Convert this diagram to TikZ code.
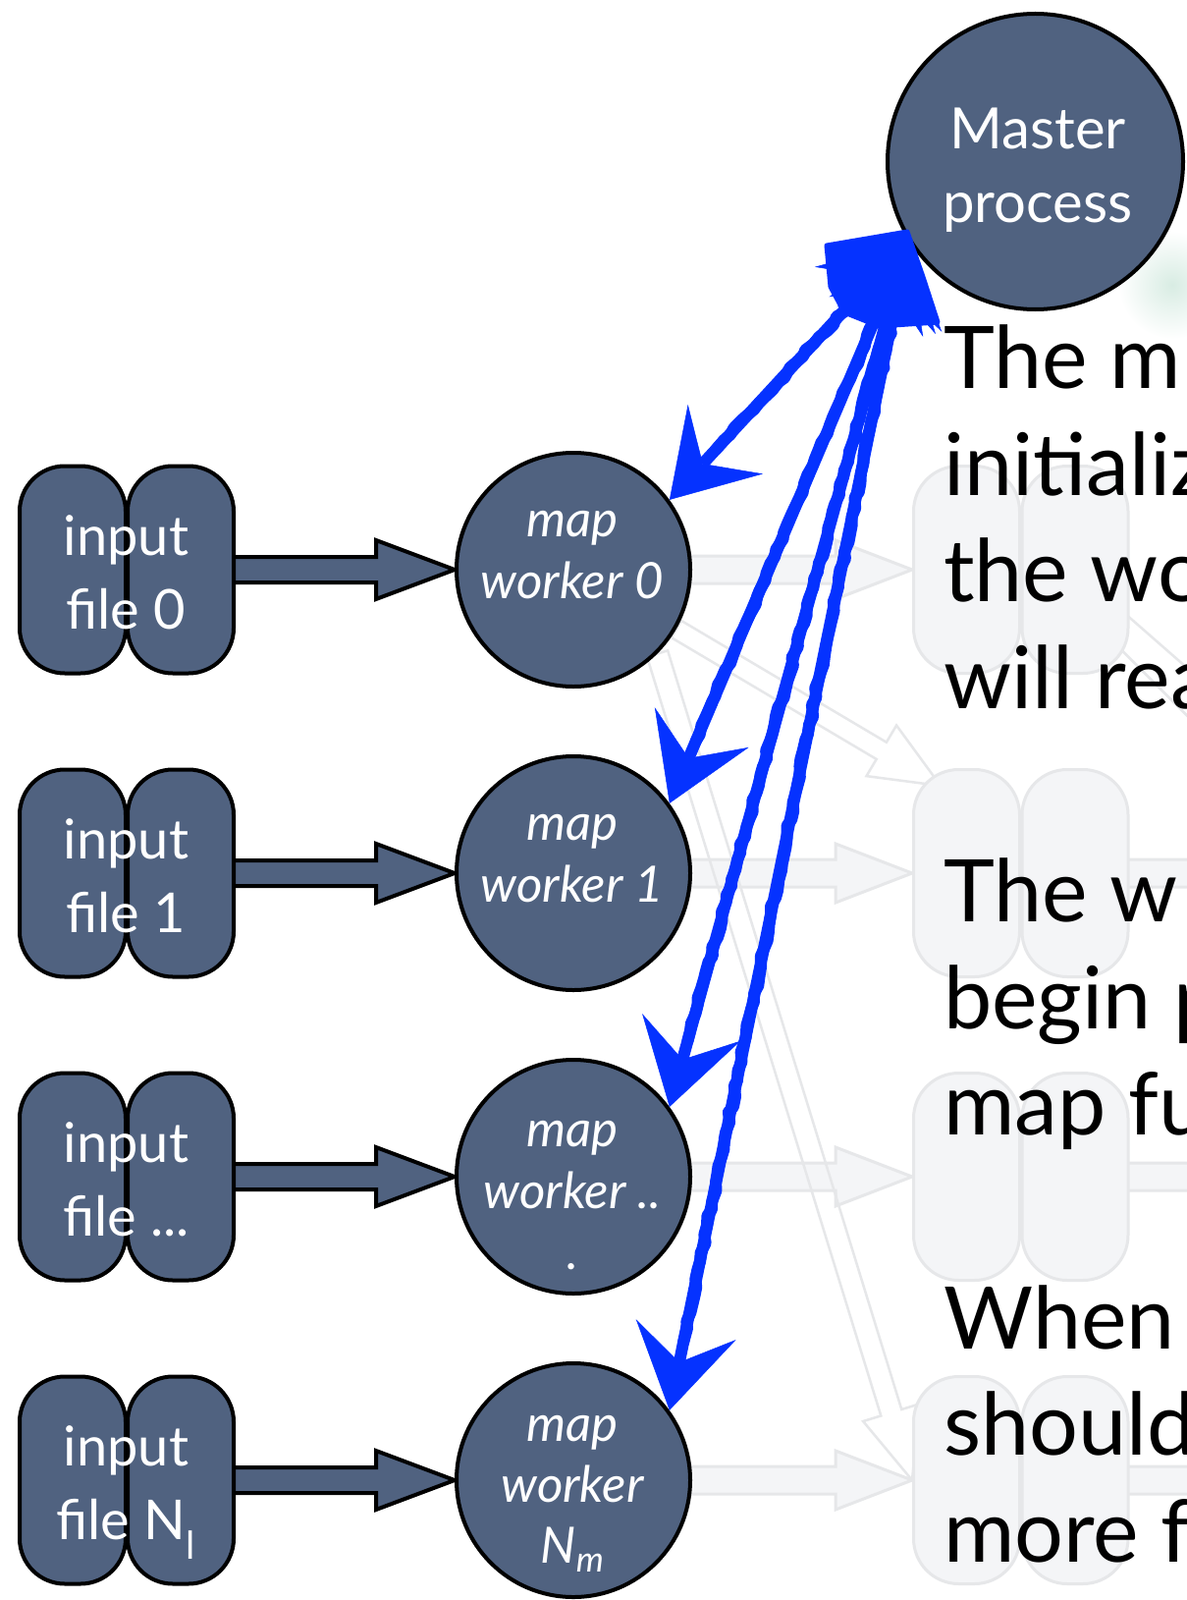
\documentclass[tikz,border=0pt]{standalone}
\usepackage{fontspec}
\setmainfont{Lato}
\usetikzlibrary{calc,arrows.meta,decorations.pathmorphing}
\definecolor{slate}{RGB}{80,98,128}
\definecolor{sketchblue}{RGB}{5,50,255}
\definecolor{ghostfill}{RGB}{244,245,247}
\definecolor{ghostline}{RGB}{230,231,233}
\definecolor{mint}{RGB}{216,236,227}
\pgfdeclarelayer{bg}
\pgfdeclarelayer{ghost}
\pgfdeclarelayer{arr}
\pgfdeclarelayer{top}
\pgfsetlayers{bg,ghost,arr,main,top}
% block arrow: style, start, tip, head length, head half width, shaft half width
\newcommand{\BlockArrow}[6]{%
  \path[#1] ($(#2)!#6!90:(#3)$) -- ($(#3)!#4!(#2)!#6!-90:(#2)$) -- ($(#3)!#4!(#2)!#5!-90:(#2)$) -- (#3)
    -- ($(#3)!#4!(#2)!#5!90:(#2)$) -- ($(#3)!#4!(#2)!#6!90:(#2)$) -- ($(#2)!#6!-90:(#3)$) -- cycle;}
\tikzset{
  pill/.style={draw=black, line width=4pt, fill=slate, rounded corners=46pt, minimum width=108pt, minimum height=211pt, inner sep=0pt},
  ghostpill/.style={draw=ghostline, line width=3pt, fill=ghostfill, rounded corners=46pt, minimum width=108pt, minimum height=211pt, inner sep=0pt},
  worker/.style={circle, draw=black, line width=4pt, fill=slate, minimum size=238pt, inner sep=0pt},
  masterc/.style={circle, draw=black, line width=4pt, fill=slate, minimum size=301pt, inner sep=0pt},
  intext/.style={text=white, font=\fontsize{56}{60}\selectfont, anchor=base, inner sep=0pt},
  wtext/.style={text=white, font=\fontsize{51}{55}\selectfont\itshape, anchor=base, inner sep=0pt},
  mtext/.style={text=white, font=\fontsize{58}{62}\selectfont, anchor=base, inner sep=0pt},
  bigtext/.style={text=black, font=\fontsize{88}{92}\selectfont, anchor=base west, inner sep=0pt},
  blockarrow/.style={draw=black, line width=4pt, fill=slate, line join=miter},
  ghostarrow/.style={draw=ghostline, line width=3pt, fill=ghostfill},
  ghostoutline/.style={draw=ghostline, line width=2.5pt},
  bluearrow/.style={draw=sketchblue, line width=12pt,
    arrows={Stealth[length=84pt,width=104pt,inset=34pt,line width=0.5pt]-Stealth[length=84pt,width=104pt,inset=34pt,line width=0.5pt]}},
  bluesketch/.style={draw=sketchblue, line width=12pt, line cap=round, line join=round,
    decorate, decoration={random steps, segment length=9pt, amplitude=2pt}},
  blueblob/.style={fill=sketchblue, draw=sketchblue, line width=5pt, line join=round}
}
\begin{document}
\begin{tikzpicture}[x=1pt,y=-1pt]
\useasboundingbox (0,0) rectangle (1208,1629);
\begin{pgfonlayer}{bg}
  \fill[white] (0,0) rectangle (1208,1629);
  \shade[inner color=mint, outer color=white] (1194,290) circle (55);
\end{pgfonlayer}
\clip (0,0) rectangle (1208,1629);

% faint background pills
\begin{pgfonlayer}{arr}
  \node[ghostpill] (ga0) at (984.5,580) {};
  \node[ghostpill] (gb0) at (1095,580) {};
  \node[ghostpill] (ga1) at (984.5,889) {};
  \node[ghostpill] (gb1) at (1095,889) {};
  \node[ghostpill] (ga2) at (984.5,1198) {};
  \node[ghostpill] (gb2) at (1095,1198) {};
  \node[ghostpill] (ga3) at (984.5,1507) {};
  \node[ghostpill] (gb3) at (1095,1507) {};
\end{pgfonlayer}

% master
\node[masterc] (master) at (1054.5,164.5) {};
\node[mtext] (mt1) at (1057,152) {Master};
\node[mtext] (mt2) at (1057,227) {process};

% input files
\node[pill] (ina0) at (74,580) {};
\node[pill] (inb0) at (184,580) {};
\node[pill] (ina1) at (74,889) {};
\node[pill] (inb1) at (184,889) {};
\node[pill] (ina2) at (74,1198) {};
\node[pill] (inb2) at (184,1198) {};
\node[pill] (ina3) at (74,1507) {};
\node[pill] (inb3) at (184,1507) {};

\node[intext] (it0a) at (128.5,565) {input};
\node[intext] (it0b) at (128.5,640) {file 0};
\node[intext] (it1a) at (128.5,874) {input};
\node[intext] (it1b) at (128.5,949) {file 1};
\node[intext] (it2a) at (128.5,1183) {input};
\node[intext] (it2b) at (128.5,1258) {file ...};
\node[intext] (it3a) at (128.5,1492) {input};
\node[intext] (it3b) at (128.5,1567) {file N\textsubscript{l}};

% map workers
\node[worker] (w0) at (584,580) {};
\node[worker] (w1) at (584,889) {};
\node[worker] (w2) at (584,1198) {};
\node[worker] (w3) at (584,1507) {};

\node[wtext] (wt0a) at (583,546) {map};
\node[wtext] (wt0b) at (583,609) {worker 0};
\node[wtext] (wt1a) at (583,855) {map};
\node[wtext] (wt1b) at (583,918) {worker 1};
\node[wtext] (wt2a) at (583,1167) {map};
\node[wtext] (wt2b) at (583,1230) {worker ..};
\node[wtext] (wt2c) at (583,1292) {.};
\node[wtext] (wt3a) at (583,1467) {map};
\node[wtext] (wt3b) at (583,1529) {worker};
\node[wtext] (wt3c) at (583,1591) {N\textsubscript{m}};

% input -> worker block arrows
\begin{pgfonlayer}{arr}
  \foreach \r in {0,1,2,3} {
    \coordinate (as\r) at ($(inb\r.east)+(-8,0)$);
    \BlockArrow{blockarrow}{as\r}{w\r.west}{80pt}{30pt}{13pt}
  }
\end{pgfonlayer}

% faint background arrows
\begin{pgfonlayer}{ghost}
  \foreach \r in {0,1,2,3} {
    \coordinate (gs\r) at ($(w\r.east)+(-12,0)$);
    \BlockArrow{ghostarrow}{gs\r}{ga\r.west}{78pt}{30pt}{14pt}
  }
  \foreach \r in {1,2,3} {
    \coordinate (gr\r) at ($(gb\r.east)+(-6,0)$);
    \coordinate (gq\r) at ($(gb\r.east)+(80,0)$);
    \BlockArrow{ghostarrow}{gr\r}{gq\r}{20pt}{14pt}{14pt}
  }
  \coordinate (gAe) at ($(ga1.north west)+(29,18)$);
  \BlockArrow{ghostoutline}{w0.-30}{gAe}{70pt}{30pt}{10pt}
  \BlockArrow{ghostoutline}{w0.-45}{ga3.west}{72pt}{30pt}{11pt}
  \coordinate (gd1) at ($(gb0.east)+(70,110)$);
  \coordinate (gd2) at ($(gb0.east)+(70,160)$);
  \draw[ghostline, line width=2.5pt] ($(gb0.east)+(-10,40)$) -- (gd1);
  \draw[ghostline, line width=2.5pt] ($(gb0.east)+(-10,80)$) -- (gd2);
\end{pgfonlayer}

% right-hand text
\node[bigtext] (rt1) at (961,395) {The m};
\node[bigtext] (rt2) at (961,504) {initializ};
\node[bigtext] (rt3) at (961,612) {the wo};
\node[bigtext] (rt4) at (961,721) {will rea};
\node[bigtext] (rt5) at (961,938) {The w};
\node[bigtext] (rt6) at (961,1047) {begin p};
\node[bigtext] (rt7) at (961,1155) {map fu};
\node[bigtext] (rt8) at (961,1373) {When};
\node[bigtext] (rt9) at (961,1481) {should};
\node[bigtext] (rt10) at (961,1590) {more f};

% hand-drawn blue double arrows
\begin{pgfonlayer}{top}
  \coordinate (mtip) at (master.212);
  \foreach \r in {0,1,2,3} {
    \draw[bluearrow] (mtip) -- (w\r.36);
    \draw[bluesketch] ($(mtip)!70pt!(w\r.36)$) -- ($(w\r.36)!70pt!(mtip)$);
  }
  \path[blueblob] (924,236) -- (842,250) -- (846,292) -- (860,318) -- (895,332) -- (955,328) -- (940,282) -- cycle;
\end{pgfonlayer}
\end{tikzpicture}
\end{document}
